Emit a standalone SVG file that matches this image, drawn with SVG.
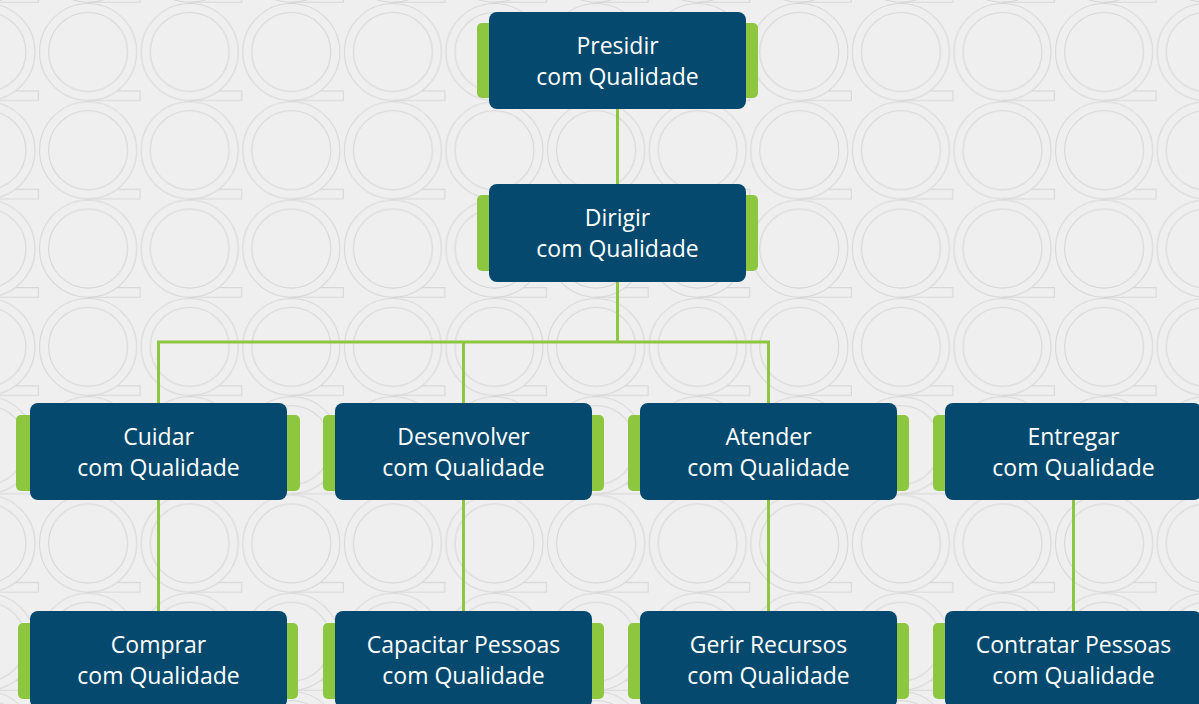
<svg xmlns="http://www.w3.org/2000/svg" xmlns:xlink="http://www.w3.org/1999/xlink" width="1199" height="704" viewBox="0 0 1199 704">
<style>
.qs{fill:none;stroke:#d7d7d7;stroke-width:1.1}
.tab{fill:#8dc63f}
.box{fill:#054a6e}
.lbl{font-family:"Open Sans","Noto Sans",sans-serif;font-size:23px;fill:#ffffff;text-anchor:middle}
.con{fill:none;stroke:#8dc63f;stroke-width:3}
</style>
<defs>
<g id="q">
<circle class="qs" cx="51" cy="49" r="48.5"/>
<circle class="qs" cx="51" cy="49" r="39.5"/>
<path class="qs" d="M79.8,88 H103 V97.5 H51"/>
</g>
<pattern id="bg" patternUnits="userSpaceOnUse" x="37.1" y="3" width="101.6" height="98.3">
<rect width="101.6" height="98.3" fill="#efefef"/>
<use xlink:href="#q"/>
<use xlink:href="#q" x="-101.6"/>
<use xlink:href="#q" y="-98.3"/>
<use xlink:href="#q" x="-101.6" y="-98.3"/>
</pattern>
</defs>
<rect width="1199" height="704" fill="url(#bg)"/>
<g id="connectors">
<line class="con" x1="617.5" y1="109" x2="617.5" y2="184"/>
<polyline class="con" points="617.5,281 617.5,342"/>
<polyline class="con" points="158.5,403 158.5,342 768.5,342 768.5,403"/>
<line class="con" x1="463.5" y1="342" x2="463.5" y2="403"/>
<line class="con" x1="158.5" y1="500" x2="158.5" y2="611"/>
<line class="con" x1="463.5" y1="500" x2="463.5" y2="611"/>
<line class="con" x1="768.5" y1="500" x2="768.5" y2="611"/>
<line class="con" x1="1073.5" y1="500" x2="1073.5" y2="611"/>
</g>
<g id="presidir">
<rect class="tab" x="477" y="23" width="281" height="75" rx="5"/>
<rect class="box" x="489" y="12" width="257" height="97" rx="8"/>
<text class="lbl" x="617.5" y="53.5">Presidir</text>
<text class="lbl" x="617.5" y="84.5">com Qualidade</text>
</g>
<g id="dirigir">
<rect class="tab" x="477" y="195" width="281" height="76" rx="5"/>
<rect class="box" x="489" y="184" width="257" height="98" rx="8"/>
<text class="lbl" x="617.5" y="225.5">Dirigir</text>
<text class="lbl" x="617.5" y="256.5">com Qualidade</text>
</g>
<g id="cuidar">
<rect class="tab" x="16" y="415" width="284" height="76" rx="5"/>
<rect class="box" x="30" y="403" width="257" height="97" rx="8"/>
<text class="lbl" x="158.5" y="444.5">Cuidar</text>
<text class="lbl" x="158.5" y="475.5">com Qualidade</text>
</g>
<g id="desenvolver">
<rect class="tab" x="323" y="415" width="281" height="76" rx="5"/>
<rect class="box" x="335" y="403" width="257" height="97" rx="8"/>
<text class="lbl" x="463.5" y="444.5">Desenvolver</text>
<text class="lbl" x="463.5" y="475.5">com Qualidade</text>
</g>
<g id="atender">
<rect class="tab" x="628" y="415" width="281" height="76" rx="5"/>
<rect class="box" x="640" y="403" width="257" height="97" rx="8"/>
<text class="lbl" x="768.5" y="444.5">Atender</text>
<text class="lbl" x="768.5" y="475.5">com Qualidade</text>
</g>
<g id="entregar">
<rect class="tab" x="933" y="415" width="281" height="76" rx="5"/>
<rect class="box" x="945" y="403" width="257" height="97" rx="8"/>
<text class="lbl" x="1073.5" y="444.5">Entregar</text>
<text class="lbl" x="1073.5" y="475.5">com Qualidade</text>
</g>
<g id="comprar">
<rect class="tab" x="18" y="623" width="280" height="76" rx="5"/>
<rect class="box" x="30" y="611" width="257" height="97" rx="8"/>
<text class="lbl" x="158.5" y="652.5">Comprar</text>
<text class="lbl" x="158.5" y="683.5">com Qualidade</text>
</g>
<g id="capacitar">
<rect class="tab" x="323" y="623" width="281" height="76" rx="5"/>
<rect class="box" x="335" y="611" width="257" height="97" rx="8"/>
<text class="lbl" x="463.5" y="652.5">Capacitar Pessoas</text>
<text class="lbl" x="463.5" y="683.5">com Qualidade</text>
</g>
<g id="gerir">
<rect class="tab" x="628" y="623" width="281" height="76" rx="5"/>
<rect class="box" x="640" y="611" width="257" height="97" rx="8"/>
<text class="lbl" x="768.5" y="652.5">Gerir Recursos</text>
<text class="lbl" x="768.5" y="683.5">com Qualidade</text>
</g>
<g id="contratar">
<rect class="tab" x="933" y="623" width="281" height="76" rx="5"/>
<rect class="box" x="945" y="611" width="257" height="97" rx="8"/>
<text class="lbl" x="1073.5" y="652.5">Contratar Pessoas</text>
<text class="lbl" x="1073.5" y="683.5">com Qualidade</text>
</g>
</svg>
